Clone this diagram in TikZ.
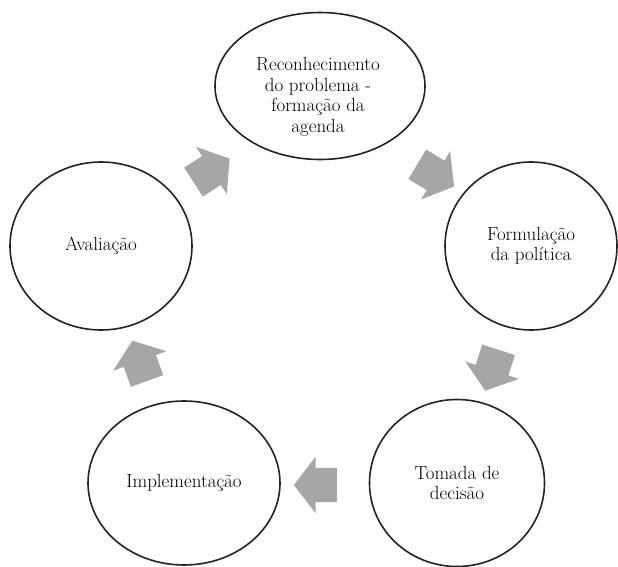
\documentclass[tikz,border=0pt]{standalone}
\usetikzlibrary{shapes.geometric,shapes.arrows}
\definecolor{ringline}{RGB}{35,35,35}
\definecolor{arrowgrey}{RGB}{166,166,166}

\begin{document}
\begin{tikzpicture}[x=1pt, y=-1pt,
  stagetext/.style={align=center, inner sep=0pt, text=black,
    font=\fontsize{19}{20.5}\selectfont},
  stage/.style={ellipse, draw=ringline, line width=1.6pt, stagetext},
  cyclearrow/.style={single arrow, fill=arrowgrey, draw=none,
    inner xsep=0pt, inner ysep=17pt, minimum width=56pt, minimum height=43pt,
    single arrow head extend=11pt, single arrow tip angle=105}]
\useasboundingbox (0,0) rectangle (618,567);

\node[stage, minimum width=210pt, minimum height=147pt] (rec) at (320,86) {};
\node[stagetext] (rectext) at (318,97)
  {Reconhecimento\\do problema -\\formação da\\agenda};
\node[stage, minimum width=172pt, minimum height=168pt] (form) at (531,246)
  {Formulação\\da política};
\node[stage, minimum width=175pt, minimum height=167pt] (tom) at (457,483)
  {Tomada de\\decisão};
\node[stage, minimum width=192pt, minimum height=164pt] (impl) at (184,483)
  {Implementação};
\node[stage, minimum width=182pt, minimum height=168pt] (aval) at (101,246)
  {Avaliação};

\node[cyclearrow, rotate=33] (avalrec) at (206,174) {};
\node[cyclearrow, rotate=-31] (recform) at (430,172) {};
\node[cyclearrow, rotate=-108] (formtom) at (494,364) {};
\node[cyclearrow, rotate=180] (tomimpl) at (322,485) {};
\node[cyclearrow, rotate=110] (implaval) at (142,367) {};
\end{tikzpicture}
\end{document}
